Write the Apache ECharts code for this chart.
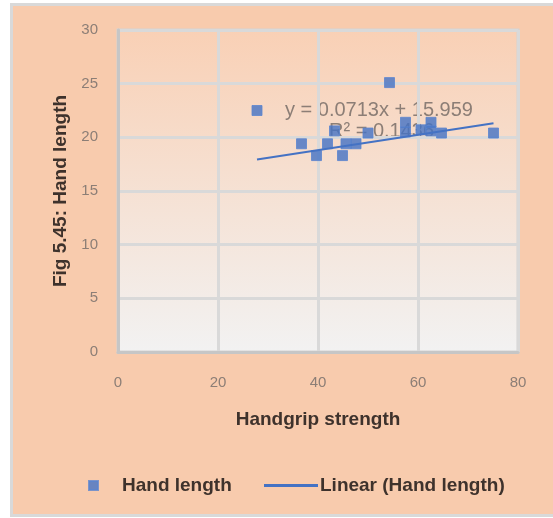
<!DOCTYPE html>
<html>
<head>
<meta charset="utf-8">
<script src="https://cdn.jsdelivr.net/npm/echarts@6/dist/echarts.min.js"></script>
<style>
  html, body { margin: 0; padding: 0; background: #ffffff; }
  #frame {
    position: absolute; left: 10px; top: 3px; width: 560px; height: 508px;
    background: #f8cbad; border: 3px solid #d9d9d9;
  }
  #chart { position: absolute; left: 0; top: 0; width: 553px; height: 518px; }
</style>
</head>
<body>
<div id="frame"></div>
<div id="chart"></div>
<script>
// handgrip strength (x) vs hand length (y)
const gripStrength = [27.8, 36.7, 39.7, 41.9, 43.3, 44.9, 45.6, 47.6, 50.0, 54.3, 57.5, 57.5, 60.6, 62.6, 62.6, 64.7, 75.1];
const handLength   = [22.5, 19.4, 18.3, 19.4, 20.6, 18.3, 19.4, 19.4, 20.4, 25.1, 21.4, 20.5, 20.7, 21.4, 20.6, 20.4, 20.4];
// linear trend as printed on the chart: [slope, intercept]
const trendCoef = [0.0713, 15.959];
const trendLabels = ["y = 0.0713x + 15.959", "R\u00b2 = 0.1436"];
const xTicks = [0, 20, 40, 60, 80];
const yTicks = [0, 5, 10, 15, 20, 25, 30];

const chart = echarts.init(document.getElementById("chart"));

const points = gripStrength.map((x, i) => [x, handLength[i]]);
const xMin = Math.min(...gripStrength);
const xMax = Math.max(...gripStrength);
const trendData = [xMin, xMax].map((x) => [x, trendCoef[0] * x + trendCoef[1]]);

const gray = "#8c7e76";
const dark = "#3e322c";
const font = "Liberation Sans";

chart.setOption({
  animation: false,
  backgroundColor: "transparent",
  textStyle: { fontFamily: font },
  grid: {
    left: 118, right: 35, top: 30, bottom: 166,
    show: true,
    borderColor: "#d4d4d4",
    borderWidth: 3,
    backgroundColor: new echarts.graphic.LinearGradient(0, 0, 0, 1, [
      { offset: 0, color: "#f9d0b5" },
      { offset: 1, color: "#f2f2f2" },
    ]),
  },
  xAxis: {
    type: "value",
    min: xTicks[0], max: xTicks[xTicks.length - 1], interval: 20,
    name: "Handgrip strength",
    nameLocation: "middle",
    nameGap: 58,
    nameTextStyle: { color: dark, fontWeight: "bold", fontSize: 19, fontFamily: font },
    axisLine: { lineStyle: { color: "#c6c6c6", width: 3 } },
    axisTick: { show: false },
    axisLabel: { color: gray, fontSize: 15, margin: 23 },
    splitLine: { lineStyle: { color: "#d9d9d9", width: 3 } },
  },
  yAxis: {
    type: "value",
    min: yTicks[0], max: yTicks[yTicks.length - 1], interval: 5,
    name: "Fig 5.45: Hand length",
    nameLocation: "middle",
    nameGap: 47,
    nameTextStyle: { color: dark, fontWeight: "bold", fontSize: 19, fontFamily: font },
    axisLine: { show: true, lineStyle: { color: "#c6c6c6", width: 3 } },
    axisTick: { show: false },
    axisLabel: { color: gray, fontSize: 15, margin: 20 },
    splitLine: { lineStyle: { color: "#d9d9d9", width: 3 } },
  },
  legend: [
    {
      data: ["Hand length"],
      left: 83, top: 471,
      icon: "rect",
      itemWidth: 9, itemHeight: 9,
      itemGap: 0,
      textStyle: { color: dark, fontSize: 19, fontWeight: "bold", padding: [0, 0, 0, 19] },
    },
    {
      data: ["Linear (Hand length)"],
      left: 259, top: 471,
      icon: "rect",
      itemWidth: 54, itemHeight: 3,
      textStyle: { color: dark, fontSize: 19, fontWeight: "bold", padding: [0, 0, 0, -3] },
    },
  ],
  graphic: [
    {
      type: "text", left: 285, top: 100, silent: true,
      style: { text: trendLabels[0], fill: gray, font: "20px " + font },
    },
    {
      type: "text", left: 329, top: 121, silent: true,
      style: { text: trendLabels[1], fill: gray, font: "20px " + font },
    },
  ],
  series: [
    {
      name: "Hand length",
      type: "scatter",
      data: points,
      symbol: "rect",
      symbolSize: 10,
      itemStyle: { color: "#4472c4", borderColor: "#5b85cf", borderWidth: 1 },
      zlevel: 1,
      z: 5,
    },
    {
      name: "Linear (Hand length)",
      type: "line",
      data: trendData,
      symbol: "none",
      lineStyle: { color: "#4472c4", width: 2 },
      itemStyle: { color: "#4472c4" },
      zlevel: 1,
      z: 6,
    },
  ],
});
</script>
</body>
</html>
